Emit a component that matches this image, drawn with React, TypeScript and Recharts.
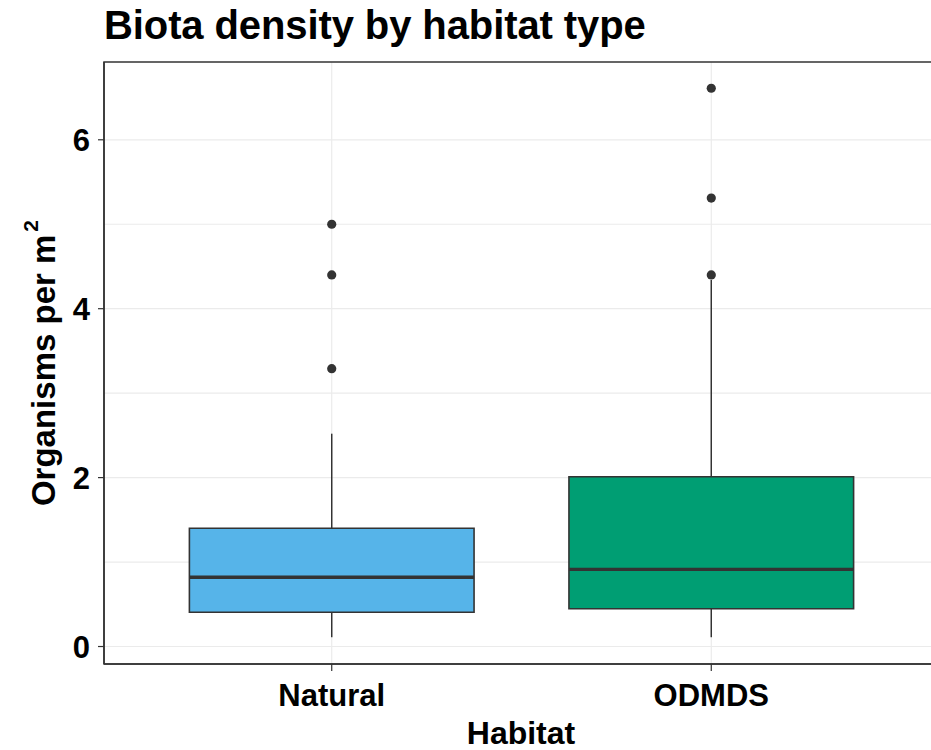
import React from 'react';
import {
  ComposedChart,
  XAxis,
  YAxis,
  CartesianGrid,
  Scatter,
  ReferenceArea,
  ReferenceLine,
} from 'recharts';

// Box-plot summary per habitat
const habitats = ['Natural', 'ODMDS'];
const whiskerLow = [0.11, 0.11];
const q1 = [0.405, 0.448];
const median = [0.82, 0.914];
const q3 = [1.4, 2.01];
const whiskerHigh = [2.52, 4.34];
const boxColors = ['#56B4E9', '#009E73'];

// Outlying observations
const outliersNatural = [3.29, 4.4, 5.0];
const outliersODMDS = [4.4, 5.31, 6.61];

const yTicks = [0, 2, 4, 6];
const gridValues = [0, 1, 2, 3, 4, 5, 6];

const X_DOMAIN: [number, number] = [0.4, 2.6];
const Y_DOMAIN: [number, number] = [-0.207, 6.921];
const BOX_HALF = 0.375;

const FONT = '"Liberation Sans", Arial, Helvetica, sans-serif';
const INK = '#333333';

const outlierData = [
  ...outliersNatural.map((y) => ({ x: 1, y })),
  ...outliersODMDS.map((y) => ({ x: 2, y })),
];

const YTitle = (props: any) => {
  const vb = props.viewBox || {};
  const cy = vb.y + vb.height / 2;
  const x = 55;
  return (
    <text
      x={x}
      y={cy}
      transform={`rotate(-90, ${x}, ${cy})`}
      textAnchor="middle"
      fontFamily={FONT}
      fontWeight="bold"
      fontSize={33}
      fill="#000"
    >
      Organisms per m
      <tspan dx={3} dy={-17} fontSize={21}>2</tspan>
    </text>
  );
};

const XTitle = (props: any) => {
  const vb = props.viewBox || {};
  return (
    <text
      x={521}
      y={vb.y + 80}
      textAnchor="middle"
      fontFamily={FONT}
      fontWeight="bold"
      fontSize={32}
      fill="#000"
    >
      Habitat
    </text>
  );
};

const Dot = (props: any) => {
  const { cx, cy } = props;
  return <circle cx={cx} cy={cy} r={4.6} fill={INK} />;
};

export default function App() {
  return (
    <div
      style={{
        position: 'absolute',
        left: 0,
        top: 0,
        width: 931,
        height: 750,
        overflow: 'hidden',
        background: '#fff',
      }}
    >
      <div
        style={{
          position: 'absolute',
          left: 104,
          top: 5,
          fontFamily: FONT,
          fontWeight: 'bold',
          fontSize: 40,
          lineHeight: '40px',
          color: '#000',
          whiteSpace: 'nowrap',
          letterSpacing: '-0.1px',
        }}
      >
        Biota density by habitat type
      </div>
      <ComposedChart
        width={939}
        height={750}
        margin={{ top: 62, right: 0, bottom: 0, left: 0 }}
      >
        <CartesianGrid
          stroke="#ebebeb"
          strokeWidth={1.2}
          horizontalValues={gridValues}
          verticalValues={[1, 2]}
        />
        <XAxis
          type="number"
          dataKey="x"
          domain={X_DOMAIN}
          ticks={[1, 2]}
          allowDataOverflow
          tickFormatter={(v: number) => habitats[v - 1] ?? ''}
          height={86}
          tickSize={7}
          tickMargin={13}
          axisLine={{ stroke: INK, strokeWidth: 1.5 }}
          tickLine={{ stroke: INK, strokeWidth: 1.2 }}
          tick={{ fill: '#000', fontFamily: FONT, fontWeight: 'bold', fontSize: 31 }}
          label={<XTitle />}
        />
        <YAxis
          type="number"
          dataKey="y"
          domain={Y_DOMAIN}
          ticks={yTicks}
          allowDataOverflow
          width={104}
          tickSize={6}
          tickMargin={8}
          axisLine={{ stroke: INK, strokeWidth: 1.5 }}
          tickLine={{ stroke: INK, strokeWidth: 1.2 }}
          tick={{ fill: '#000', fontFamily: FONT, fontWeight: 'bold', fontSize: 31 }}
          label={<YTitle />}
        />
        {/* panel border */}
        <ReferenceArea
          x1={X_DOMAIN[0]}
          x2={X_DOMAIN[1]}
          y1={Y_DOMAIN[0]}
          y2={Y_DOMAIN[1]}
          fill="none"
          stroke={INK}
          strokeWidth={1.5}
          ifOverflow="extendDomain"
        />
        {/* whiskers */}
        {habitats.map((h, i) => (
          <ReferenceLine
            key={`wh-${h}`}
            segment={[
              { x: i + 1, y: q3[i] },
              { x: i + 1, y: whiskerHigh[i] },
            ]}
            stroke={INK}
            strokeWidth={1.5}
          />
        ))}
        {habitats.map((h, i) => (
          <ReferenceLine
            key={`wl-${h}`}
            segment={[
              { x: i + 1, y: whiskerLow[i] },
              { x: i + 1, y: q1[i] },
            ]}
            stroke={INK}
            strokeWidth={1.5}
          />
        ))}
        {/* boxes */}
        {habitats.map((h, i) => (
          <ReferenceArea
            key={`box-${h}`}
            x1={i + 1 - BOX_HALF}
            x2={i + 1 + BOX_HALF}
            y1={q1[i]}
            y2={q3[i]}
            fill={boxColors[i]}
            fillOpacity={1}
            stroke={INK}
            strokeWidth={1.6}
          />
        ))}
        {/* medians */}
        {habitats.map((h, i) => (
          <ReferenceLine
            key={`med-${h}`}
            segment={[
              { x: i + 1 - BOX_HALF, y: median[i] },
              { x: i + 1 + BOX_HALF, y: median[i] },
            ]}
            stroke={INK}
            strokeWidth={3.4}
          />
        ))}
        <Scatter
          data={outlierData}
          dataKey="y"
          shape={<Dot />}
          isAnimationActive={false}
        />
      </ComposedChart>
    </div>
  );
}
